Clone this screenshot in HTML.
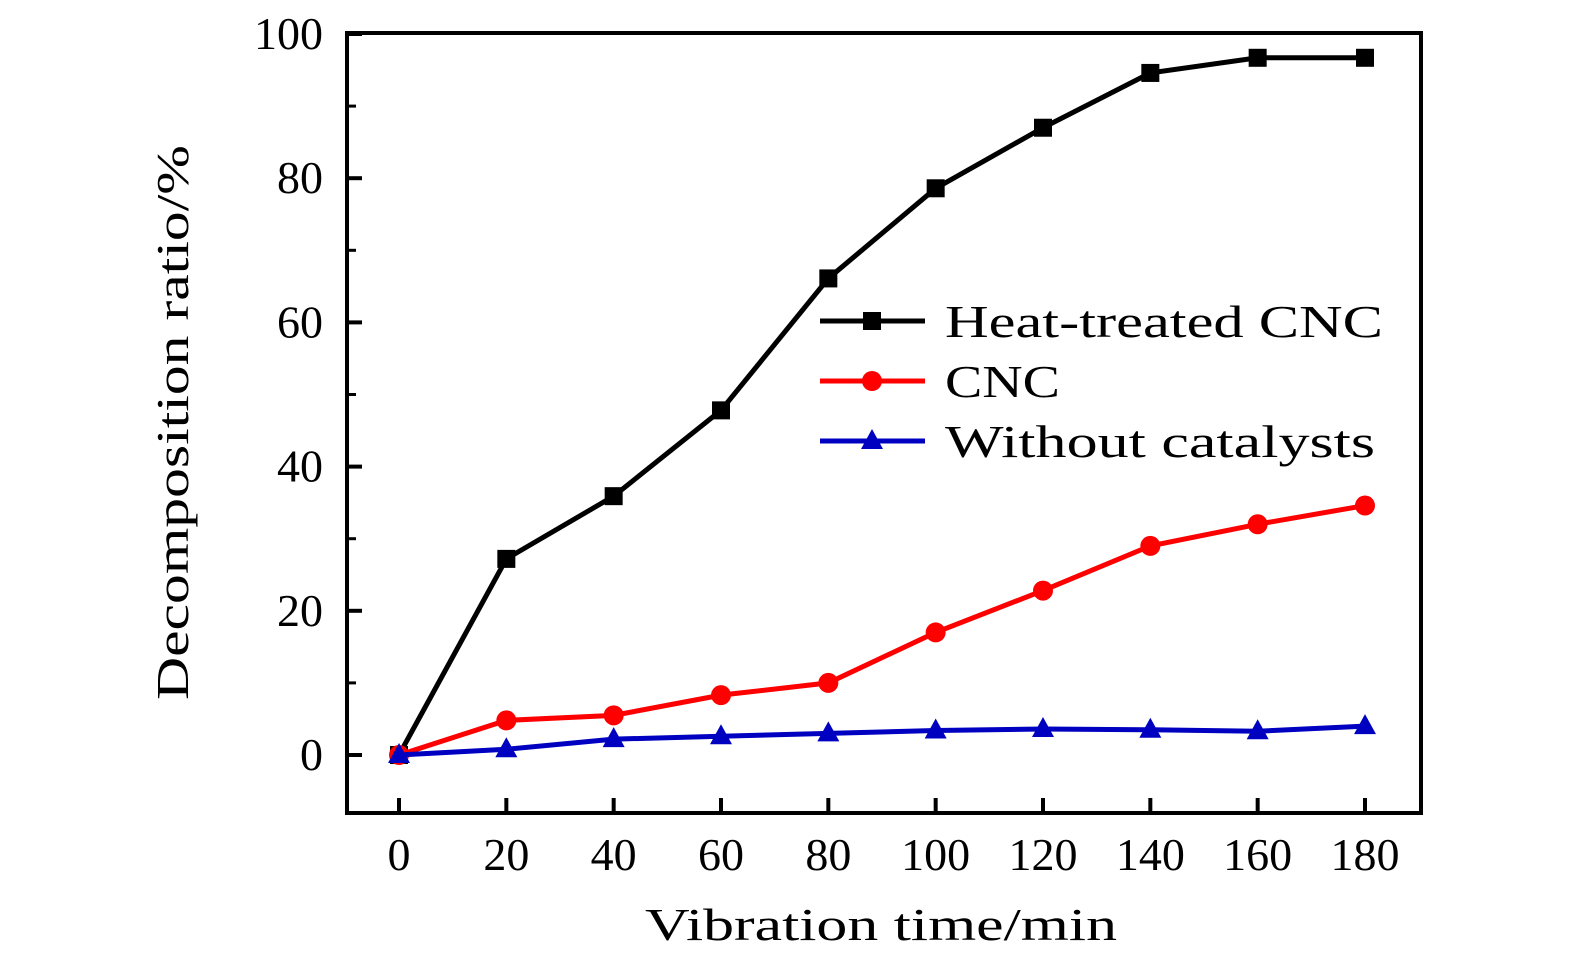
<!DOCTYPE html>
<html><head><meta charset="utf-8"><style>
body{margin:0;background:#fff;}
svg text{font-family:"Liberation Serif",serif;fill:#000;}
</style></head><body>
<svg id="chart" width="1575" height="965" xmlns="http://www.w3.org/2000/svg">
<g id="axes"></g><g id="series"></g><g id="legend"></g>
</svg>
<script>
const xValues=[0,20,40,60,80,100,120,140,160,180];
const heatTreated=[0,27.2,35.9,47.8,66.1,78.6,87,94.6,96.7,96.7];
const cnc=[0,4.8,5.5,8.3,10,17,22.8,29,32,34.6];
const noCatalyst=[0,0.8,2.2,2.6,3,3.4,3.6,3.5,3.3,4];
const xTicks=[0,20,40,60,80,100,120,140,160,180];
const yTicks=[0,20,40,60,80,100];
const legendLabels=["Heat-treated CNC","CNC","Without catalysts"];
const legendWidths=[438,115,430];
const NS="http://www.w3.org/2000/svg";
const L=347,R=1421,T=33,B=813;
function sx(v){return 399+v*(1365-399)/180;}
function sy(v){return 755-v*7.21;}
function mk(tag,attrs,parent){const e=document.createElementNS(NS,tag);for(const k in attrs)e.setAttribute(k,attrs[k]);parent.appendChild(e);return e;}
const axes=document.getElementById('axes');
const frame=mk('rect',{x:L,y:T,width:R-L,height:B-T,fill:'none',stroke:'#000','stroke-width':4},axes);


yTicks.forEach(v=>{
 const t=mk('line',{x1:L,x2:L+15,y1:sy(v),y2:sy(v),stroke:'#000','stroke-width':4},axes);
 
 
 const m=mk('line',{x1:L,x2:L+9,y1:sy(v+10),y2:sy(v+10),stroke:'#000','stroke-width':3},axes);
 
 
 const tx=mk('text',{x:L-24,y:sy(v)+15,'font-size':46,'text-anchor':'end'},axes);
 tx.textContent=v;
 
 
});
xTicks.forEach(v=>{
 const t=mk('line',{x1:sx(v),x2:sx(v),y1:B,y2:B-15,stroke:'#000','stroke-width':4},axes);
 
 
 const tx=mk('text',{x:sx(v),y:870,'font-size':46,'text-anchor':'middle'},axes);
 tx.textContent=v;
 
 
});
const xl=mk('text',{x:645,y:940,'font-size':46,textLength:472,lengthAdjust:'spacingAndGlyphs'},axes);
xl.textContent='Vibration time/min';


const yl=mk('text',{x:0,y:0,'font-size':46,textLength:555,lengthAdjust:'spacingAndGlyphs',transform:'translate(188,700) rotate(-90)'},axes);
yl.textContent='Decomposition ratio/%';


const ser=document.getElementById('series');
const seriesList=[[heatTreated,'#000','square'],[cnc,'#f00','circle'],[noCatalyst,'#0000c0','triangle']];
function marker(shape,x,y,c,parent){
 if(shape==='square')return mk('rect',{x:x-9,y:y-9,width:18,height:18,fill:c},parent);
 if(shape==='circle')return mk('circle',{cx:x,cy:y,r:10,fill:c},parent);
 return mk('polygon',{points:`${x},${y-12} ${x+11},${y+8} ${x-11},${y+8}`,fill:c},parent);
}
seriesList.forEach((s,i)=>{
 const [vals,c,shape]=s;
 const pl=mk('polyline',{points:vals.map((v,j)=>sx(xValues[j])+','+sy(v)).join(' '),fill:'none',stroke:c,'stroke-width':5},ser);
 
 
 vals.forEach((v,j)=>{
  const m=marker(shape,sx(xValues[j]),sy(v),c,ser);
  
  
 });
});
const leg=document.getElementById('legend');
seriesList.forEach((s,i)=>{
 const y=321+i*60;
 const ln=mk('line',{x1:820,x2:925,y1:y,y2:y,stroke:s[1],'stroke-width':5},leg);
 
 
 const m=marker(s[2],872,y,s[1],leg);
 
 
 const tx=mk('text',{x:945,y:y+16,'font-size':46,textLength:legendWidths[i],lengthAdjust:'spacingAndGlyphs'},leg);
 tx.textContent=legendLabels[i];
 
 
});
</script>
</body></html>
